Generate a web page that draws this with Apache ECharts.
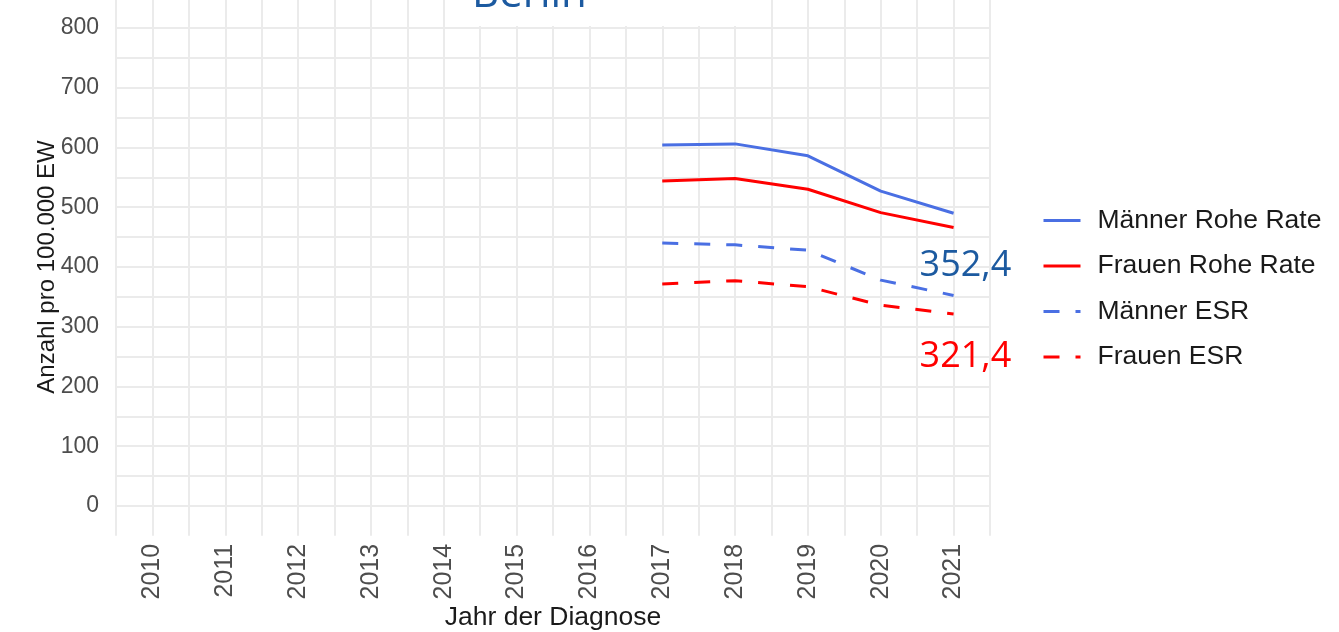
<!DOCTYPE html>
<html>
<head>
<meta charset="utf-8">
<title>Berlin</title>
<script src="https://cdn.jsdelivr.net/npm/echarts@6/dist/echarts.min.js"></script>
<style>
  html, body { margin: 0; padding: 0; background: #fff; }
  #chart { width: 1339px; height: 632px; }
</style>
</head>
<body>
<div id="chart"></div>
<script>
const years = [2017, 2018, 2019, 2020, 2021]
const maennerRoh = [604, 606, 586, 527, 490]
const frauenRoh = [544, 548, 530, 491, 466]
const maennerEsr = [440, 437, 428, 378, 352.4]
const frauenEsr = [371.5, 377, 367, 336, 321.4]

const blue = '#4a6fe3'
const red = '#ff0000'
const darkBlue = '#1c5aa0'
const gridColor = '#ebebeb'
const font = 'Liberation Sans, Arial, sans-serif'

function pairs(values) {
  return years.map((y, i) => [y, values[i]])
}

// Endwert mit deutschem Dezimalkomma
function endValue(p) {
  return String(p.value[1]).replace('.', ',')
}

function lineSeries(name, values, color, dashed) {
  return {
    name: name,
    type: 'line',
    data: pairs(values),
    symbol: 'none',
    lineStyle: { color: color, width: 3, type: dashed ? [16, 16] : 'solid' },
    itemStyle: { color: color }
  }
}

const chart = echarts.init(document.getElementById('chart'))

const series = [
  lineSeries('Männer Rohe Rate', maennerRoh, blue, false),
  lineSeries('Frauen Rohe Rate', frauenRoh, red, false),
  lineSeries('Männer ESR', maennerEsr, blue, true),
  lineSeries('Frauen ESR', frauenEsr, red, true)
]
series[2].endLabel = {
  show: true, offset: [-42, -30], formatter: endValue,
  color: darkBlue, fontSize: 36, fontFamily: 'Open Sans'
}
series[3].endLabel = {
  show: true, offset: [-42, 43], formatter: endValue,
  color: red, fontSize: 36, fontFamily: 'Open Sans'
}

chart.setOption({
  animation: false,
  title: {
    text: 'Berlin',
    left: 467,
    top: -31,
    textStyle: { fontSize: 42, color: darkBlue, fontWeight: 'normal', fontFamily: 'Open Sans' }
  },
  graphic: [{
    type: 'rect',
    z: 5,
    shape: { x: 447, y: 0, width: 316, height: 26 },
    style: { fill: '#fff' }
  }],
  legend: {
    orient: 'vertical',
    left: 1042,
    top: 207,
    padding: 0,
    itemWidth: 37,
    itemHeight: 14,
    itemGap: 18.5,
    itemStyle: { opacity: 0 },
    lineStyle: { width: 3 },
    textStyle: { fontSize: 26.5, color: '#1a1a1a', fontFamily: font, lineHeight: 26, padding: [0, 0, 0, 12] },
    data: series.map(s => s.name)
  },
  grid: {
    left: 116,
    right: 349,
    top: -1.9,
    height: 537.75,
    containLabel: false,
    outerBoundsMode: 'none'
  },
  xAxis: {
    type: 'value',
    min: 2009.5,
    max: 2021.5,
    interval: 0.5,
    name: 'Jahr der Diagnose',
    nameLocation: 'middle',
    nameGap: 68,
    nameMoveOverlap: false,
    nameTextStyle: { fontSize: 26.5, color: '#1a1a1a', fontFamily: font },
    axisLine: { show: false },
    axisTick: { show: false },
    axisLabel: {
      rotate: 90,
      margin: 8,
      fontSize: 25,
      color: '#4d4d4d',
      fontFamily: font,
      formatter: v => (Number.isInteger(v) ? String(v) : '')
    },
    splitLine: { show: true, showMinLine: true, showMaxLine: true, lineStyle: { color: gridColor, width: 2 } }
  },
  yAxis: {
    type: 'value',
    min: -50,
    max: 850,
    interval: 50,
    name: 'Anzahl pro 100.000 EW',
    nameLocation: 'middle',
    nameGap: 57,
    nameMoveOverlap: false,
    nameTextStyle: { fontSize: 24, color: '#1a1a1a', fontFamily: font },
    axisLine: { show: false },
    axisTick: { show: false },
    axisLabel: {
      margin: 17,
      fontSize: 23,
      color: '#4d4d4d',
      fontFamily: font,
      formatter: v => (v >= 0 && v <= 800 && v % 100 === 0 ? String(v) : '')
    },
    splitLine: { show: true, showMinLine: false, showMaxLine: false, lineStyle: { color: gridColor, width: 2 } }
  },
  series: series
})
</script>
</body>
</html>
